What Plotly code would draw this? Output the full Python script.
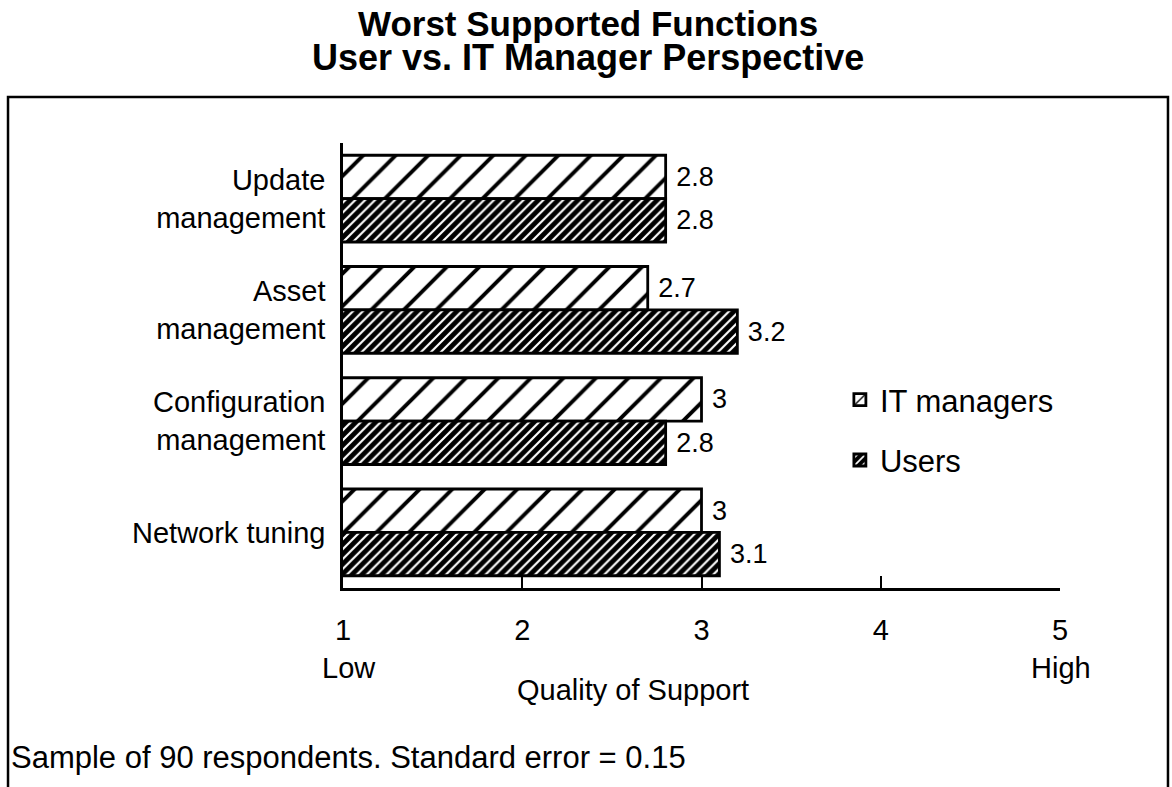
import plotly.graph_objects as go

categories = ["Update<br>management", "Asset<br>management", "Configuration<br>management", "Network tuning"]
it_managers = [2.8, 2.7, 3.0, 3.0]
users = [2.8, 3.2, 2.8, 3.1]
it_labels = ["2.8", "2.7", "3", "3"]
user_labels = ["2.8", "3.2", "2.8", "3.1"]
x_ticks = [1, 2, 3, 4, 5]

FONT = "Liberation Sans, Arial, Helvetica, sans-serif"

fig = go.Figure()
fig.add_trace(go.Bar(
    y=categories, x=it_managers, orientation="h", name="IT managers", legendgroup="it",
    text=it_labels, texttemplate="\u00a0%{text}", textposition="outside", cliponaxis=False,
    textfont=dict(size=27, color="black", family=FONT),
    marker=dict(color="white", line=dict(color="black", width=2.8),
                pattern=dict(shape="/", fgcolor="black", bgcolor="white", fgopacity=1,
                             size=23, solidity=0.17)),
))
fig.add_trace(go.Bar(
    y=categories, x=users, orientation="h", name="Users", legendgroup="us",
    text=user_labels, texttemplate="\u00a0%{text}", textposition="outside", cliponaxis=False,
    textfont=dict(size=27, color="black", family=FONT),
    marker=dict(color="black", line=dict(color="black", width=2.8),
                pattern=dict(shape="/", fgcolor="white", bgcolor="black", fgopacity=1,
                             size=7, solidity=0.3)),
))

fig.update_layout(
    width=1172, height=787, autosize=False,
    margin=dict(l=343, r=112, t=143, b=199),
    paper_bgcolor="white", plot_bgcolor="white",
    font=dict(family=FONT, size=29, color="black"),
    barmode="group", bargap=0.22, bargroupgap=0,
    xaxis=dict(range=[1, 5], tickvals=x_ticks, ticktext=[str(v) for v in x_ticks],
               showline=True, linecolor="black", linewidth=2.5,
               ticks="inside", ticklen=12, tickwidth=2, tickcolor="black",
               showgrid=False, zeroline=False, ticklabelstandoff=14,
               tickfont=dict(size=29)),
    yaxis=dict(autorange="reversed", showline=True, linecolor="black", linewidth=2.5,
               showgrid=False, zeroline=False, ticks="", ticklabelstandoff=9,
               tickfont=dict(size=29)),
    legend=dict(x=0.693, y=0.483, xanchor="left", yanchor="top",
                font=dict(size=31), bgcolor="rgba(0,0,0,0)",
                traceorder="grouped", tracegroupgap=17),
    showlegend=True,
)

# outer frame
fig.add_shape(type="rect", xref="paper", yref="paper",
              x0=-0.4672, x1=1.1506, y0=-0.48, y1=1.1034,
              line=dict(color="black", width=2.5), fillcolor="rgba(0,0,0,0)", layer="below")

# title (two lines)
fig.add_annotation(x=0.3417, y=1, xref="paper", yref="paper", yshift=120,
                   text="<b>Worst Supported Functions</b>", showarrow=False,
                   font=dict(size=35), xanchor="center", yanchor="middle")
fig.add_annotation(x=0.3417, y=1, xref="paper", yref="paper", yshift=86,
                   text="<b>User vs. IT Manager Perspective</b>", showarrow=False,
                   font=dict(size=36), xanchor="center", yanchor="middle")

fig.add_annotation(x=1, y=0, xref="x", yref="paper", yshift=-80, xshift=6, text="Low",
                   showarrow=False, font=dict(size=29), xanchor="center", yanchor="middle")
fig.add_annotation(x=5, y=0, xref="x", yref="paper", yshift=-80, xshift=1, text="High",
                   showarrow=False, font=dict(size=29), xanchor="center", yanchor="middle")
fig.add_annotation(x=0.404, y=0, xref="paper", yref="paper", yshift=-102, text="Quality of Support",
                   showarrow=False, font=dict(size=29), xanchor="center", yanchor="middle")
fig.add_annotation(x=-0.466, y=0, xref="paper", yref="paper", yshift=-169,
                   text="Sample of 90 respondents. Standard error = 0.15",
                   showarrow=False, font=dict(size=31), xanchor="left", yanchor="middle")

fig.write_html("out.html", config={"displayModeBar": False},
               post_script="document.body.style.margin='0';document.body.style.overflow='hidden';")
